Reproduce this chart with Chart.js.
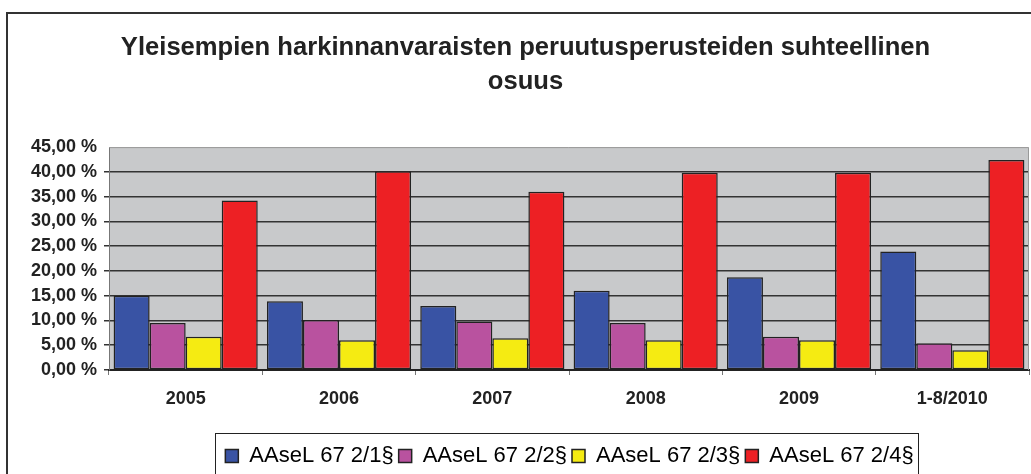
<!DOCTYPE html>
<html>
<head>
<meta charset="utf-8">
<script src="https://cdn.jsdelivr.net/npm/chart.js@4/dist/chart.umd.min.js"></script>
<style>
  html, body { margin: 0; padding: 0; background: #fff; }
  #wrap { width: 1031px; height: 474px; position: relative; }
</style>
</head>
<body>
<div id="wrap"><canvas id="c" width="1031" height="474"></canvas></div>
<script>
const categories = ['2005', '2006', '2007', '2008', '2009', '1-8/2010'];
const seriesNames = ['AAseL 67 2/1§', 'AAseL 67 2/2§', 'AAseL 67 2/3§', 'AAseL 67 2/4§'];
const s1 = [15.0, 13.9, 12.9, 16.0, 18.7, 23.9];
const s2 = [9.5, 10.1, 9.8, 9.5, 6.7, 5.4];
const s3 = [6.7, 6.0, 6.4, 6.0, 6.0, 4.0];
const s4 = [34.2, 40.1, 36.0, 39.8, 39.8, 42.4];
const seriesColors = ['#3953a4', '#b9529f', '#f5eb12', '#ed2024'];
const yTicks = [0, 5, 10, 15, 20, 25, 30, 35, 40, 45];
const titleLines = ['Yleisempien harkinnanvaraisten peruutusperusteiden suhteellinen', 'osuus'];

const FONT = 'Arial, "Liberation Sans", Helvetica, sans-serif';

const frame = {
  id: 'frame',
  afterLayout(chart) {
    const lg = chart.legend;
    if (lg) {
      lg.left += 44; lg.right += 44;
      lg.top += 3; lg.bottom += 3;
    }
  },
  beforeDraw(chart) {
    const {ctx, chartArea: a} = chart;
    ctx.save();
    ctx.fillStyle = '#c8c9cb';
    ctx.fillRect(a.left, a.top, a.right - a.left, a.bottom - a.top);
    ctx.restore();
  },
  afterDraw(chart) {
    const {ctx, chartArea: a} = chart;
    ctx.save();
    ctx.strokeStyle = '#333';
    ctx.lineWidth = 2;
    ctx.beginPath();
    ctx.moveTo(7, 474);
    ctx.lineTo(7, 13);
    ctx.lineTo(1031, 13);
    ctx.stroke();
    ctx.strokeStyle = '#999';
    ctx.lineWidth = 1;
    ctx.beginPath();
    ctx.moveTo(a.left, a.top + 0.5);
    ctx.lineTo(a.right - 0.5, a.top + 0.5);
    ctx.lineTo(a.right - 0.5, a.bottom);
    ctx.stroke();
    const lg = chart.legend;
    if (lg && lg.legendHitBoxes && lg.legendHitBoxes.length) {
      let l = Infinity, r = -Infinity, t = Infinity;
      lg.legendHitBoxes.forEach(b => { l = Math.min(l, b.left); r = Math.max(r, b.left + b.width); t = Math.min(t, b.top); });
      ctx.strokeStyle = '#222';
      ctx.lineWidth = 1;
      const top = Math.round(t - 12) + 0.5;
      ctx.strokeRect(Math.round(l) - 9.5, top, Math.round(r - l) + 15, 474 - top + 5);
    }
    ctx.restore();
  }
};

new Chart(document.getElementById('c'), {
  type: 'bar',
  data: {
    labels: categories,
    datasets: [s1, s2, s3, s4].map((d, i) => ({
      label: seriesNames[i],
      data: d,
      backgroundColor: seriesColors[i],
      borderColor: '#222',
      borderWidth: 1.5,
      borderSkipped: false,
      categoryPercentage: 0.94,
      barPercentage: 1.0
    }))
  },
  options: {
    responsive: false,
    animation: false,
    devicePixelRatio: 1,
    layout: { padding: { left: 22, right: 2, top: 31, bottom: 0 } },
    plugins: {
      title: {
        display: true,
        text: titleLines,
        color: '#222',
        font: { family: FONT, size: 25.6, weight: 'bold', lineHeight: 1.33 },
        padding: { top: 0, bottom: 48 }
      },
      legend: {
        position: 'bottom',
        labels: {
          color: '#222',
          font: { family: FONT, size: 22 },
          boxWidth: 13,
          boxHeight: 13,
          padding: 5,
          generateLabels(chart) {
            return chart.data.datasets.map((ds, i) => ({
              text: ds.label,
              fillStyle: ds.backgroundColor,
              strokeStyle: '#222',
              lineWidth: 1.5,
              datasetIndex: i,
              hidden: false
            }));
          }
        }
      },
      tooltip: { enabled: false }
    },
    scales: {
      x: {
        grid: { display: true, drawOnChartArea: false, drawTicks: true, offset: true, tickLength: 5, color: '#777' },
        border: { display: true, color: '#222', width: 2 },
        ticks: { color: '#222', font: { family: FONT, size: 18, weight: 'bold' }, padding: 13 },
        afterFit(scale) { scale.height = 67; }
      },
      y: {
        min: 0, max: 45,
        afterBuildTicks(scale) { scale.ticks = yTicks.map(v => ({ value: v })); },
        grid: { color: (c) => c.tick && c.tick.value === 45 ? 'rgba(0,0,0,0)' : '#333', lineWidth: 1.5, tickLength: 5, drawTicks: true },
        border: { display: true, color: '#777', width: 1 },
        ticks: {
          autoSkip: false,
          color: '#222',
          font: { family: FONT, size: 18, weight: 'bold' },
          padding: 7,
          callback: (v) => v.toFixed(2).replace('.', ',') + ' %'
        },
        afterFit(scale) { scale.width = 87; }
      }
    }
  },
  plugins: [frame]
});
</script>
</body>
</html>
